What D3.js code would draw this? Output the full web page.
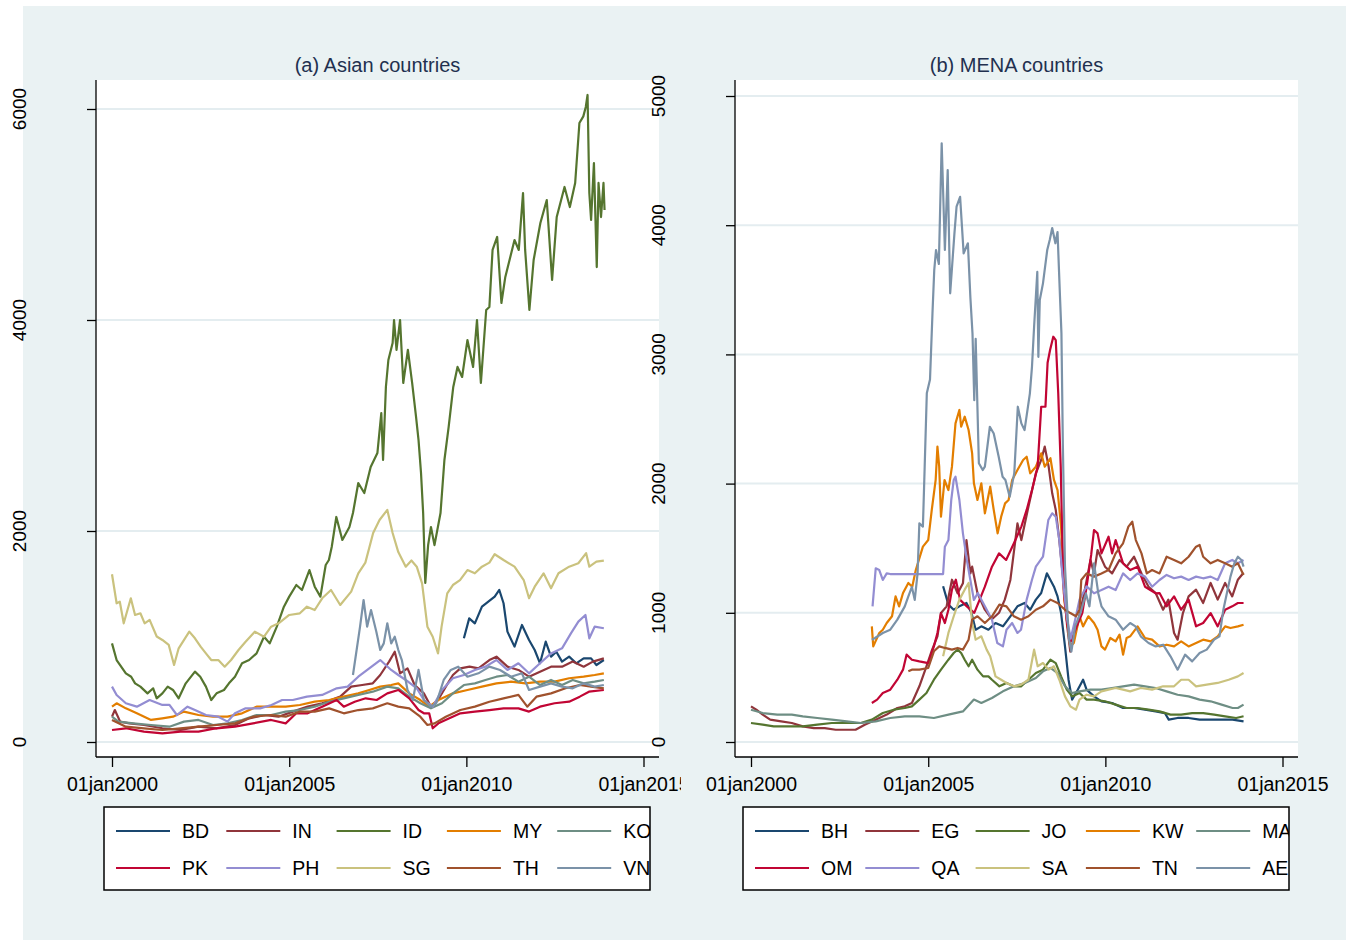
<!DOCTYPE html>
<html>
<head>
<meta charset="utf-8">
<script src="https://cdn.jsdelivr.net/npm/d3@7"></script>
<style>
  body { margin: 0; background: #fff; }
  svg text { font-family: "Liberation Sans", Arial, sans-serif; }
</style>
</head>
<body>
<svg id="chart" width="1350" height="941"></svg>
<script>
// ---- data: [decimal year, index value] ----
const asianCodes = ["BD", "IN", "ID", "MY", "KO", "PK", "PH", "SG", "TH", "VN"];
const menaCodes = ["BH", "EG", "JO", "KW", "MA", "OM", "QA", "SA", "TN", "AE"];
const xTickYears = [2000, 2005, 2010, 2015];
const asianYTicks = [0, 2000, 4000, 6000];
const menaYTicks = [0, 1000, 2000, 3000, 4000, 5000];

const BD = [[2009.93,983],[2010.08,1172],[2010.24,1125],[2010.44,1283],[2010.62,1330],[2010.8,1378],[2010.93,1441],[2011.05,1315],[2011.16,1046],[2011.36,904],[2011.57,1109],[2011.77,967],[2011.93,872],[2012.08,746],[2012.24,951],[2012.39,809],[2012.54,856],[2012.7,762],[2012.9,809],[2013.1,746],[2013.31,793],[2013.52,793],[2013.67,730],[2013.88,777]];
const IN = [[2000.0,240],[2000.08,303],[2000.23,193],[2000.49,177],[2000.9,161],[2001.42,130],[2001.93,114],[2002.44,145],[2002.95,130],[2003.47,161],[2003.87,224],[2004.29,256],[2004.7,240],[2005.1,288],[2005.52,335],[2005.93,367],[2006.44,430],[2006.75,525],[2007.06,540],[2007.36,556],[2007.57,635],[2007.82,762],[2007.98,856],[2008.13,651],[2008.34,698],[2008.54,540],[2008.8,461],[2009.0,335],[2009.2,398],[2009.42,525],[2009.62,635],[2009.83,698],[2010.09,714],[2010.34,698],[2010.65,777],[2010.85,809],[2011.16,714],[2011.47,683],[2011.77,619],[2012.08,667],[2012.39,714],[2012.7,714],[2013.0,762],[2013.31,714],[2013.57,762],[2013.88,793]];
const ID = [[2000.0,935],[2000.13,777],[2000.39,651],[2000.54,619],[2000.65,556],[2000.8,525],[2001.0,461],[2001.16,509],[2001.26,414],[2001.42,461],[2001.57,525],[2001.72,493],[2001.88,414],[2002.08,556],[2002.34,667],[2002.49,619],[2002.65,525],[2002.8,398],[2002.95,461],[2003.16,493],[2003.3,556],[2003.47,619],[2003.67,746],[2003.87,777],[2004.08,840],[2004.29,998],[2004.45,935],[2004.65,1093],[2004.85,1283],[2005.0,1378],[2005.2,1488],[2005.36,1441],[2005.57,1630],[2005.72,1472],[2005.88,1378],[2006.03,1678],[2006.12,1725],[2006.2,1848],[2006.33,2133],[2006.5,1915],[2006.7,2038],[2006.8,2170],[2006.95,2455],[2007.12,2360],[2007.3,2607],[2007.49,2739],[2007.6,3118],[2007.65,2673],[2007.73,3365],[2007.8,3621],[2007.92,3782],[2007.96,4000],[2008.03,3716],[2008.13,4000],[2008.22,3403],[2008.35,3716],[2008.47,3403],[2008.58,3081],[2008.65,2862],[2008.72,2550],[2008.78,2170],[2008.84,1507],[2008.92,1866],[2009.0,2038],[2009.1,1866],[2009.27,2170],[2009.38,2673],[2009.5,2986],[2009.63,3365],[2009.75,3555],[2009.88,3460],[2010.03,3810],[2010.19,3555],[2010.3,4000],[2010.41,3403],[2010.56,4095],[2010.65,4123],[2010.74,4664],[2010.87,4787],[2010.99,4161],[2011.1,4408],[2011.36,4758],[2011.48,4664],[2011.6,5204],[2011.66,4664],[2011.78,4095],[2011.9,4569],[2012.09,4919],[2012.27,5137],[2012.42,4379],[2012.55,4976],[2012.77,5261],[2012.92,5071],[2013.07,5299],[2013.19,5867],[2013.3,5930],[2013.37,6019],[2013.42,6133],[2013.47,5204],[2013.52,4948],[2013.6,5488],[2013.68,4502],[2013.73,5299],[2013.8,4976],[2013.87,5299],[2013.9,5043]];
const MY = [[2000.0,335],[2000.13,367],[2000.39,319],[2000.7,272],[2001.1,209],[2001.42,224],[2001.72,240],[2002.03,288],[2002.44,256],[2002.85,240],[2003.26,240],[2003.67,272],[2004.08,335],[2004.49,335],[2004.9,335],[2005.3,351],[2005.72,382],[2006.13,398],[2006.54,430],[2006.95,461],[2007.26,493],[2007.57,525],[2007.88,540],[2008.08,556],[2008.39,461],[2008.7,398],[2008.95,335],[2009.21,398],[2009.62,461],[2010.03,493],[2010.44,525],[2010.85,556],[2011.26,572],[2011.67,556],[2012.08,572],[2012.49,572],[2012.9,604],[2013.31,619],[2013.62,635],[2013.88,651]];
const KO = [[2000.0,240],[2000.18,193],[2000.6,177],[2001.1,161],[2001.62,145],[2002.03,193],[2002.44,209],[2002.85,161],[2003.26,177],[2003.67,209],[2004.08,256],[2004.49,256],[2004.9,288],[2005.3,303],[2005.72,335],[2006.13,382],[2006.54,414],[2006.95,446],[2007.36,477],[2007.77,525],[2008.08,509],[2008.39,430],[2008.7,367],[2009.0,319],[2009.31,367],[2009.62,461],[2009.93,540],[2010.24,556],[2010.54,588],[2010.85,619],[2011.16,635],[2011.47,572],[2011.77,619],[2012.08,540],[2012.39,588],[2012.7,540],[2013.0,588],[2013.31,556],[2013.62,572],[2013.88,588]];
const PK = [[2000.0,114],[2000.39,130],[2000.9,98],[2001.42,82],[2001.93,98],[2002.44,98],[2002.95,130],[2003.47,145],[2003.98,177],[2004.49,209],[2004.9,177],[2005.2,272],[2005.52,272],[2005.93,335],[2006.34,398],[2006.54,335],[2006.85,382],[2007.16,414],[2007.47,398],[2007.77,461],[2008.08,493],[2008.39,414],[2008.65,303],[2008.8,272],[2008.95,272],[2009.05,130],[2009.21,177],[2009.52,224],[2009.83,272],[2010.24,288],[2010.65,303],[2011.05,319],[2011.47,319],[2011.77,288],[2012.08,335],[2012.49,367],[2012.9,382],[2013.2,430],[2013.46,477],[2013.88,493]];
const PH = [[2000.0,525],[2000.13,446],[2000.39,367],[2000.7,335],[2001.06,398],[2001.42,351],[2001.62,351],[2001.83,256],[2002.13,335],[2002.34,303],[2002.65,256],[2003.0,240],[2003.26,193],[2003.47,272],[2003.77,319],[2004.18,319],[2004.5,351],[2004.8,398],[2005.1,398],[2005.5,430],[2005.93,446],[2006.34,509],[2006.65,525],[2006.95,619],[2007.26,698],[2007.57,777],[2007.88,683],[2008.08,635],[2008.29,588],[2008.6,509],[2008.8,398],[2009.05,335],[2009.31,493],[2009.62,604],[2009.93,635],[2010.24,683],[2010.54,714],[2010.85,777],[2011.16,683],[2011.47,746],[2011.77,651],[2012.08,746],[2012.39,840],[2012.7,888],[2012.95,1030],[2013.16,1141],[2013.36,1204],[2013.47,983],[2013.62,1093],[2013.88,1078]];
const SG = [[2000.0,1590],[2000.13,1315],[2000.22,1330],[2000.33,1125],[2000.53,1362],[2000.65,1204],[2000.8,1220],[2000.92,1125],[2001.06,1157],[2001.26,1000],[2001.42,967],[2001.6,920],[2001.75,730],[2001.88,888],[2002.18,1046],[2002.34,983],[2002.5,904],[2002.65,840],[2002.8,777],[2003.0,777],[2003.18,714],[2003.36,777],[2003.57,872],[2003.77,951],[2004.03,1046],[2004.29,998],[2004.49,1093],[2004.7,1125],[2005.0,1204],[2005.3,1220],[2005.5,1283],[2005.72,1251],[2005.93,1362],[2006.18,1441],[2006.44,1299],[2006.75,1425],[2006.95,1599],[2007.15,1700],[2007.37,1981],[2007.55,2104],[2007.77,2200],[2007.92,1981],[2008.08,1800],[2008.29,1662],[2008.45,1720],[2008.6,1662],[2008.75,1504],[2008.9,1093],[2009.05,998],[2009.2,840],[2009.3,1093],[2009.46,1409],[2009.62,1488],[2009.82,1535],[2010.03,1630],[2010.24,1599],[2010.44,1662],[2010.65,1700],[2010.8,1780],[2011.05,1725],[2011.36,1662],[2011.62,1535],[2011.77,1362],[2011.93,1472],[2012.18,1599],[2012.39,1457],[2012.6,1599],[2012.9,1662],[2013.16,1694],[2013.38,1790],[2013.47,1662],[2013.67,1710],[2013.88,1720]];
const TH = [[2000.0,209],[2000.39,145],[2000.9,130],[2001.42,114],[2001.93,130],[2002.44,145],[2002.95,161],[2003.47,177],[2003.98,240],[2004.49,256],[2004.9,240],[2005.3,288],[2005.72,288],[2006.13,319],[2006.54,272],[2006.95,303],[2007.36,319],[2007.77,367],[2008.08,335],[2008.39,319],[2008.7,240],[2008.9,161],[2009.1,177],[2009.42,240],[2009.83,303],[2010.24,335],[2010.65,382],[2011.05,414],[2011.47,446],[2011.72,335],[2011.98,430],[2012.39,461],[2012.8,509],[2013.2,540],[2013.52,525],[2013.88,509]];
const VN = [[2006.8,635],[2007.0,1093],[2007.1,1346],[2007.2,1093],[2007.31,1251],[2007.46,1046],[2007.57,872],[2007.67,935],[2007.77,1125],[2007.88,935],[2007.98,998],[2008.08,872],[2008.18,777],[2008.34,493],[2008.49,398],[2008.65,683],[2008.8,398],[2009.0,335],[2009.15,367],[2009.36,588],[2009.56,683],[2009.77,714],[2010.03,619],[2010.34,651],[2010.65,714],[2010.95,683],[2011.26,619],[2011.57,651],[2011.77,493],[2012.08,525],[2012.39,556],[2012.7,525],[2013.0,509],[2013.31,556],[2013.62,525],[2013.88,540]];

const BH = [[2005.42,1205],[2005.57,1063],[2005.72,1024],[2005.88,1050],[2006.08,1076],[2006.22,1000],[2006.34,869],[2006.5,895],[2006.7,869],[2006.9,921],[2007.11,895],[2007.32,973],[2007.52,1050],[2007.72,1076],[2007.88,1024],[2008.04,1102],[2008.19,1153],[2008.35,1305],[2008.45,1254],[2008.55,1202],[2008.65,1127],[2008.75,998],[2008.86,740],[2008.96,482],[2009.06,328],[2009.22,405],[2009.37,482],[2009.47,405],[2009.68,353],[2009.89,315],[2010.19,302],[2010.5,263],[2010.81,263],[2011.12,250],[2011.42,237],[2011.68,224],[2011.79,173],[2012.04,186],[2012.35,186],[2012.66,173],[2012.97,173],[2013.28,173],[2013.59,173],[2013.9,160]];
const EG = [[2000.0,276],[2000.15,250],[2000.33,212],[2000.54,173],[2000.85,160],[2001.15,147],[2001.46,121],[2001.77,108],[2002.08,108],[2002.39,95],[2002.7,95],[2002.95,95],[2003.21,134],[2003.52,173],[2003.83,212],[2004.13,263],[2004.34,276],[2004.54,302],[2004.75,431],[2004.95,586],[2005.11,715],[2005.26,818],[2005.36,998],[2005.52,1050],[2005.67,1256],[2005.83,1151],[2005.98,1228],[2006.08,1563],[2006.19,1305],[2006.24,1357],[2006.39,1153],[2006.6,1024],[2006.8,950],[2007.0,1000],[2007.16,1100],[2007.32,1254],[2007.52,1692],[2007.63,1563],[2007.83,1821],[2008.04,2080],[2008.19,2183],[2008.29,2286],[2008.4,2131],[2008.5,1925],[2008.6,1796],[2008.7,1563],[2008.81,1254],[2008.92,900],[2009.01,700],[2009.2,900],[2009.4,1150],[2009.58,1409],[2009.68,1305],[2009.78,1486],[2009.99,1357],[2010.19,1305],[2010.4,1409],[2010.6,1357],[2010.81,1434],[2011.02,1305],[2011.22,1202],[2011.42,1153],[2011.63,1024],[2011.78,1102],[2011.94,844],[2012.04,792],[2012.19,998],[2012.35,1127],[2012.56,1179],[2012.76,1076],[2012.97,1231],[2013.17,1102],[2013.38,1231],[2013.58,1127],[2013.74,1256],[2013.9,1310]];
const JO = [[2000.0,147],[2000.33,134],[2000.64,121],[2001.05,121],[2001.46,121],[2001.87,134],[2002.28,147],[2002.7,147],[2003.1,147],[2003.41,173],[2003.72,224],[2004.03,250],[2004.34,263],[2004.54,276],[2004.75,328],[2004.95,379],[2005.16,482],[2005.36,560],[2005.57,637],[2005.72,689],[2005.83,715],[2005.93,689],[2006.03,637],[2006.14,586],[2006.24,637],[2006.39,560],[2006.55,508],[2006.7,508],[2006.8,482],[2007.01,431],[2007.21,457],[2007.42,431],[2007.62,431],[2007.83,482],[2008.04,534],[2008.24,560],[2008.45,637],[2008.6,611],[2008.75,508],[2008.91,405],[2009.06,353],[2009.27,379],[2009.47,328],[2009.68,328],[2009.99,315],[2010.29,289],[2010.6,263],[2010.91,263],[2011.22,250],[2011.53,237],[2011.84,212],[2012.14,212],[2012.45,224],[2012.76,224],[2013.07,212],[2013.38,199],[2013.69,186],[2013.9,199]];
const KW = [[2003.41,895],[2003.45,740],[2003.62,844],[2003.72,869],[2003.83,921],[2003.98,973],[2004.08,1127],[2004.18,1050],[2004.29,1153],[2004.44,1231],[2004.55,1202],[2004.65,1331],[2004.85,1512],[2005.0,1563],[2005.1,1796],[2005.21,2028],[2005.26,2286],[2005.31,2131],[2005.36,1744],[2005.46,2028],[2005.57,1950],[2005.67,2131],[2005.77,2466],[2005.88,2570],[2005.93,2440],[2006.03,2518],[2006.14,2415],[2006.24,2234],[2006.29,2002],[2006.39,1873],[2006.5,2002],[2006.6,1770],[2006.75,1976],[2006.85,1796],[2006.96,1615],[2007.06,1744],[2007.17,1847],[2007.27,1873],[2007.37,2028],[2007.52,2105],[2007.68,2183],[2007.78,2208],[2007.88,2080],[2008.04,2131],[2008.19,2234],[2008.29,2131],[2008.45,2196],[2008.55,2028],[2008.65,1950],[2008.75,1667],[2008.84,1099],[2009.01,740],[2009.11,766],[2009.27,973],[2009.37,895],[2009.52,973],[2009.68,921],[2009.78,869],[2009.89,740],[2009.99,715],[2010.14,805],[2010.29,779],[2010.4,831],[2010.5,676],[2010.6,805],[2010.7,818],[2010.91,895],[2011.12,805],[2011.32,792],[2011.53,740],[2011.73,753],[2011.94,740],[2012.14,779],[2012.35,740],[2012.56,766],[2012.76,792],[2012.97,779],[2013.17,818],[2013.38,895],[2013.53,882],[2013.74,895],[2013.9,908]];
const MA = [[2000.0,250],[2000.33,224],[2000.74,212],[2001.15,212],[2001.46,199],[2001.87,186],[2002.28,173],[2002.7,160],[2003.1,147],[2003.52,160],[2003.93,186],[2004.34,199],[2004.75,199],[2005.16,186],[2005.57,212],[2005.98,237],[2006.29,328],[2006.5,302],[2006.8,341],[2007.11,392],[2007.42,431],[2007.73,457],[2008.04,495],[2008.24,547],[2008.45,573],[2008.65,534],[2008.86,431],[2009.06,379],[2009.27,392],[2009.58,405],[2009.89,405],[2010.19,418],[2010.5,431],[2010.81,444],[2011.12,431],[2011.42,418],[2011.73,392],[2012.04,366],[2012.35,353],[2012.66,328],[2012.97,315],[2013.28,289],[2013.59,263],[2013.74,263],[2013.9,289]];
const OM = [[2003.41,302],[2003.56,328],[2003.72,379],[2003.93,405],[2004.13,482],[2004.29,560],[2004.39,676],[2004.54,637],[2004.75,624],[2005.0,611],[2005.16,740],[2005.26,844],[2005.36,998],[2005.47,921],[2005.57,1024],[2005.67,1179],[2005.78,1256],[2005.9,1100],[2006.09,1050],[2006.3,1000],[2006.45,1100],[2006.6,1202],[2006.8,1357],[2007.0,1460],[2007.2,1409],[2007.42,1538],[2007.63,1667],[2007.78,1796],[2007.93,1950],[2008.09,2131],[2008.19,2595],[2008.31,2596],[2008.37,2935],[2008.44,3034],[2008.53,3137],[2008.6,3111],[2008.67,2697],[2008.74,2131],[2008.78,1615],[2008.83,1151],[2008.93,900],[2009.03,780],[2009.2,900],[2009.35,1000],[2009.47,1202],[2009.6,1450],[2009.68,1641],[2009.78,1615],[2009.89,1460],[2010.09,1589],[2010.19,1460],[2010.29,1563],[2010.5,1383],[2010.7,1331],[2010.91,1357],[2011.12,1202],[2011.42,1151],[2011.53,1153],[2011.73,1050],[2011.94,1127],[2012.14,1024],[2012.35,1102],[2012.56,895],[2012.76,921],[2012.97,998],[2013.17,895],[2013.38,1024],[2013.58,1050],[2013.74,1076],[2013.9,1076]];
const QA = [[2003.43,1050],[2003.52,1344],[2003.62,1331],[2003.72,1254],[2003.83,1305],[2003.93,1300],[2005.42,1300],[2005.47,1512],[2005.57,1563],[2005.65,1873],[2005.72,2028],[2005.77,2053],[2005.88,1873],[2005.98,1615],[2006.09,1409],[2006.19,1254],[2006.29,1099],[2006.4,1153],[2006.6,1050],[2006.8,947],[2006.95,766],[2007.11,740],[2007.21,869],[2007.37,921],[2007.52,844],[2007.62,869],[2007.78,1102],[2007.93,1256],[2008.04,1357],[2008.24,1434],[2008.39,1718],[2008.5,1770],[2008.6,1744],[2008.7,1563],[2008.81,1228],[2008.92,950],[2009.02,800],[2009.15,950],[2009.27,1102],[2009.47,1205],[2009.68,1151],[2009.89,1176],[2010.09,1202],[2010.29,1176],[2010.5,1305],[2010.7,1254],[2010.91,1305],[2011.12,1280],[2011.32,1202],[2011.53,1254],[2011.73,1293],[2011.94,1267],[2012.14,1280],[2012.35,1254],[2012.56,1280],[2012.76,1267],[2012.97,1280],[2013.17,1254],[2013.38,1383],[2013.58,1409],[2013.74,1383],[2013.9,1409]];
const SA = [[2005.42,663],[2005.57,844],[2005.72,973],[2005.88,1102],[2006.03,1179],[2006.14,1231],[2006.24,921],[2006.34,792],[2006.5,818],[2006.65,715],[2006.75,663],[2006.9,508],[2007.06,482],[2007.21,457],[2007.42,431],[2007.62,444],[2007.83,482],[2007.99,715],[2008.09,586],[2008.24,611],[2008.4,560],[2008.55,586],[2008.7,482],[2008.86,353],[2009.01,276],[2009.17,250],[2009.27,328],[2009.47,366],[2009.68,353],[2009.89,392],[2010.09,405],[2010.29,418],[2010.5,405],[2010.7,392],[2011.0,418],[2011.32,405],[2011.63,431],[2011.94,431],[2012.14,482],[2012.35,482],[2012.56,431],[2012.86,444],[2013.17,457],[2013.48,482],[2013.74,508],[2013.9,534]];
const TN = [[2004.44,547],[2004.54,560],[2004.75,560],[2005.0,573],[2005.16,702],[2005.31,740],[2005.47,728],[2005.67,715],[2005.83,728],[2005.98,715],[2006.14,792],[2006.24,947],[2006.39,973],[2006.6,921],[2006.8,973],[2007.01,1063],[2007.21,1050],[2007.42,973],[2007.62,947],[2007.83,973],[2008.04,1024],[2008.24,1050],[2008.45,1102],[2008.65,1076],[2008.86,1024],[2009.01,998],[2009.17,973],[2009.27,1024],[2009.32,1254],[2009.47,1305],[2009.68,1280],[2009.89,1305],[2010.09,1331],[2010.29,1460],[2010.5,1538],[2010.65,1667],[2010.76,1705],[2010.86,1563],[2011.02,1460],[2011.17,1305],[2011.32,1331],[2011.53,1305],[2011.73,1434],[2011.94,1409],[2012.14,1383],[2012.35,1434],[2012.56,1512],[2012.66,1525],[2012.76,1434],[2012.97,1383],[2013.17,1409],[2013.38,1383],[2013.58,1357],[2013.74,1383],[2013.9,1293]];
const AE = [[2003.41,792],[2003.5,805],[2003.72,844],[2003.93,869],[2004.13,947],[2004.34,1050],[2004.44,1127],[2004.54,1200],[2004.62,1100],[2004.7,1305],[2004.75,1692],[2004.85,1667],[2004.9,2131],[2004.96,2700],[2005.05,2806],[2005.12,3318],[2005.17,3653],[2005.22,3808],[2005.3,3700],[2005.38,4634],[2005.47,3808],[2005.55,4427],[2005.62,3473],[2005.74,3937],[2005.8,4143],[2005.9,4220],[2006.0,3782],[2006.12,3860],[2006.19,3442],[2006.25,3163],[2006.3,2645],[2006.34,3121],[2006.43,2157],[2006.54,2105],[2006.6,2131],[2006.74,2440],[2006.85,2388],[2006.99,2208],[2007.1,2053],[2007.18,2028],[2007.3,1898],[2007.43,2080],[2007.53,2595],[2007.63,2466],[2007.72,2414],[2007.87,2697],[2007.93,2904],[2007.99,3214],[2008.08,3638],[2008.11,2981],[2008.15,3421],[2008.24,3550],[2008.36,3808],[2008.43,3885],[2008.5,3978],[2008.59,3860],[2008.65,3947],[2008.72,3442],[2008.76,3163],[2008.8,2300],[2008.86,1357],[2008.91,1099],[2008.97,800],[2009.04,700],[2009.15,900],[2009.3,1000],[2009.45,1150],[2009.55,1050],[2009.68,1383],[2009.8,1150],[2009.89,1050],[2010.09,973],[2010.29,947],[2010.5,869],[2010.7,921],[2010.85,895],[2011.0,818],[2011.22,766],[2011.42,740],[2011.63,753],[2011.84,663],[2012.04,560],[2012.25,676],[2012.45,624],[2012.66,689],[2012.86,715],[2013.07,792],[2013.22,818],[2013.33,1024],[2013.43,1153],[2013.53,1280],[2013.64,1383],[2013.74,1434],[2013.84,1409],[2013.9,1357]];

const asianSeries = [BD, IN, ID, MY, KO, PK, PH, SG, TH, VN];
const menaSeries = [BH, EG, JO, KW, MA, OM, QA, SA, TN, AE];

// Stata s2color palette
const colours = ["#1a476f", "#90353b", "#55752f", "#e37e00", "#6e8e84",
                 "#c10534", "#938dd2", "#cac27e", "#a0522d", "#7b92a8"];
const bgColour = "#eaf2f3";

// decimal year -> Date (UTC)
function toDate(t) {
    const y = Math.floor(t);
    const a = Date.UTC(y, 0, 1), b = Date.UTC(y + 1, 0, 1);
    return new Date(a + (t - y) * (b - a));
}

const svg = d3.select("#chart");
const fmt = d3.utcFormat("%d%b%Y");

// outer graph region (left half; right half is laid on top later)
svg.append("rect")
    .attr("x", 23).attr("y", 6)
    .attr("width", 1323).attr("height", 934)
    .attr("fill", bgColour);

function drawPanel(opts) {
    const g = svg.append("g").attr("transform", "translate(" + opts.dx + ",0)");

    // graph region of this panel covers whatever sticks out of the previous one
    if (opts.dx > 0) {
        g.append("rect")
            .attr("x", 42).attr("y", 6)
            .attr("width", 1346 - 42 - opts.dx).attr("height", 934)
            .attr("fill", bgColour);
    }

    // plot region (before offset)
    const left = 96, right = 659, top = 80, bottom = 757;

    const x = d3.scaleUtc()
        .domain([toDate(2000), toDate(2015)])
        .range([112, 643.5]);
    const y = d3.scaleLinear()
        .domain([0, opts.yMax])
        .range([742, opts.yTop]);

    g.append("rect")
        .attr("x", left).attr("y", top)
        .attr("width", right - left).attr("height", bottom - top)
        .attr("fill", "#fff");

    // gridlines
    g.selectAll(".grid")
        .data(opts.yTicks).enter()
        .append("line")
        .attr("x1", left).attr("x2", right)
        .attr("y1", d => y(d)).attr("y2", d => y(d))
        .attr("stroke", "#e4edf0")
        .attr("stroke-width", 2);

    // series
    const line = d3.line()
        .x(d => x(toDate(d[0])))
        .y(d => y(d[1]));

    g.selectAll(".series")
        .data(opts.series).enter()
        .append("path")
        .attr("d", line)
        .attr("fill", "none")
        .attr("stroke", (d, i) => colours[i])
        .attr("stroke-width", 2.2)
        .attr("stroke-linejoin", "round");

    // y axis
    const yAxis = d3.axisLeft(y)
        .tickValues(opts.yTicks)
        .tickSize(9)
        .tickFormat("");
    const ya = g.append("g")
        .attr("transform", "translate(" + left + ",0)")
        .call(yAxis);
    ya.select(".domain").attr("d", "M0," + top + "V" + bottom);
    ya.selectAll("line, path").attr("stroke", "#000").attr("stroke-width", 1.3);

    g.selectAll(".ylab")
        .data(opts.yTicks).enter()
        .append("text")
        .attr("transform", d => "translate(26," + y(d) + ") rotate(-90)")
        .attr("text-anchor", "middle")
        .attr("font-size", 19)
        .attr("fill", "#000")
        .text(d => d);

    // x axis
    const xAxis = d3.axisBottom(x)
        .tickValues(xTickYears.map(toDate))
        .tickSize(10)
        .tickPadding(10)
        .tickFormat(d => fmt(d).toLowerCase());
    const xa = g.append("g")
        .attr("transform", "translate(0," + bottom + ")")
        .call(xAxis);
    xa.select(".domain").attr("d", "M" + left + ",0H" + right);
    xa.selectAll("line, path").attr("stroke", "#000").attr("stroke-width", 1.3);
    xa.selectAll("text")
        .attr("font-size", 19.5)
        .attr("font-family", "Liberation Sans, Arial, sans-serif")
        .attr("fill", "#000");

    // title
    g.append("text")
        .attr("x", (left + right) / 2)
        .attr("y", 72)
        .attr("text-anchor", "middle")
        .attr("font-size", 20)
        .attr("fill", "#22304f")
        .text(opts.title);

    // legend
    const lx = 104, ly = 807, lw = 546, lh = 83;
    const clipId = "legclip" + opts.dx;
    g.append("clipPath").attr("id", clipId)
        .append("rect").attr("x", lx).attr("y", ly).attr("width", lw).attr("height", lh);
    g.append("rect")
        .attr("x", lx).attr("y", ly)
        .attr("width", lw).attr("height", lh)
        .attr("fill", "#fff");
    const leg = g.append("g").attr("clip-path", "url(#" + clipId + ")");
    const items = leg.selectAll(".item")
        .data(opts.codes).enter()
        .append("g")
        .attr("transform", (d, i) => "translate(" + (116 + (i % 5) * 110.3) + "," + (i < 5 ? 831 : 868) + ")");
    items.append("line")
        .attr("x1", 0).attr("x2", 54)
        .attr("stroke", (d, i) => colours[i])
        .attr("stroke-width", 2.2);
    items.append("text")
        .attr("x", 66)
        .attr("dy", "0.35em")
        .attr("font-size", 19.5)
        .attr("fill", "#000")
        .text(d => d);
    g.append("rect")
        .attr("x", lx).attr("y", ly)
        .attr("width", lw).attr("height", lh)
        .attr("fill", "none")
        .attr("stroke", "#000")
        .attr("stroke-width", 1.5);
}

drawPanel({ dx: 0, title: "(a) Asian countries", series: asianSeries, codes: asianCodes,
            yMax: 6000, yTop: 109, yTicks: asianYTicks });
drawPanel({ dx: 639, title: "(b) MENA countries", series: menaSeries, codes: menaCodes,
            yMax: 5000, yTop: 96, yTicks: menaYTicks });
</script>
</body>
</html>
